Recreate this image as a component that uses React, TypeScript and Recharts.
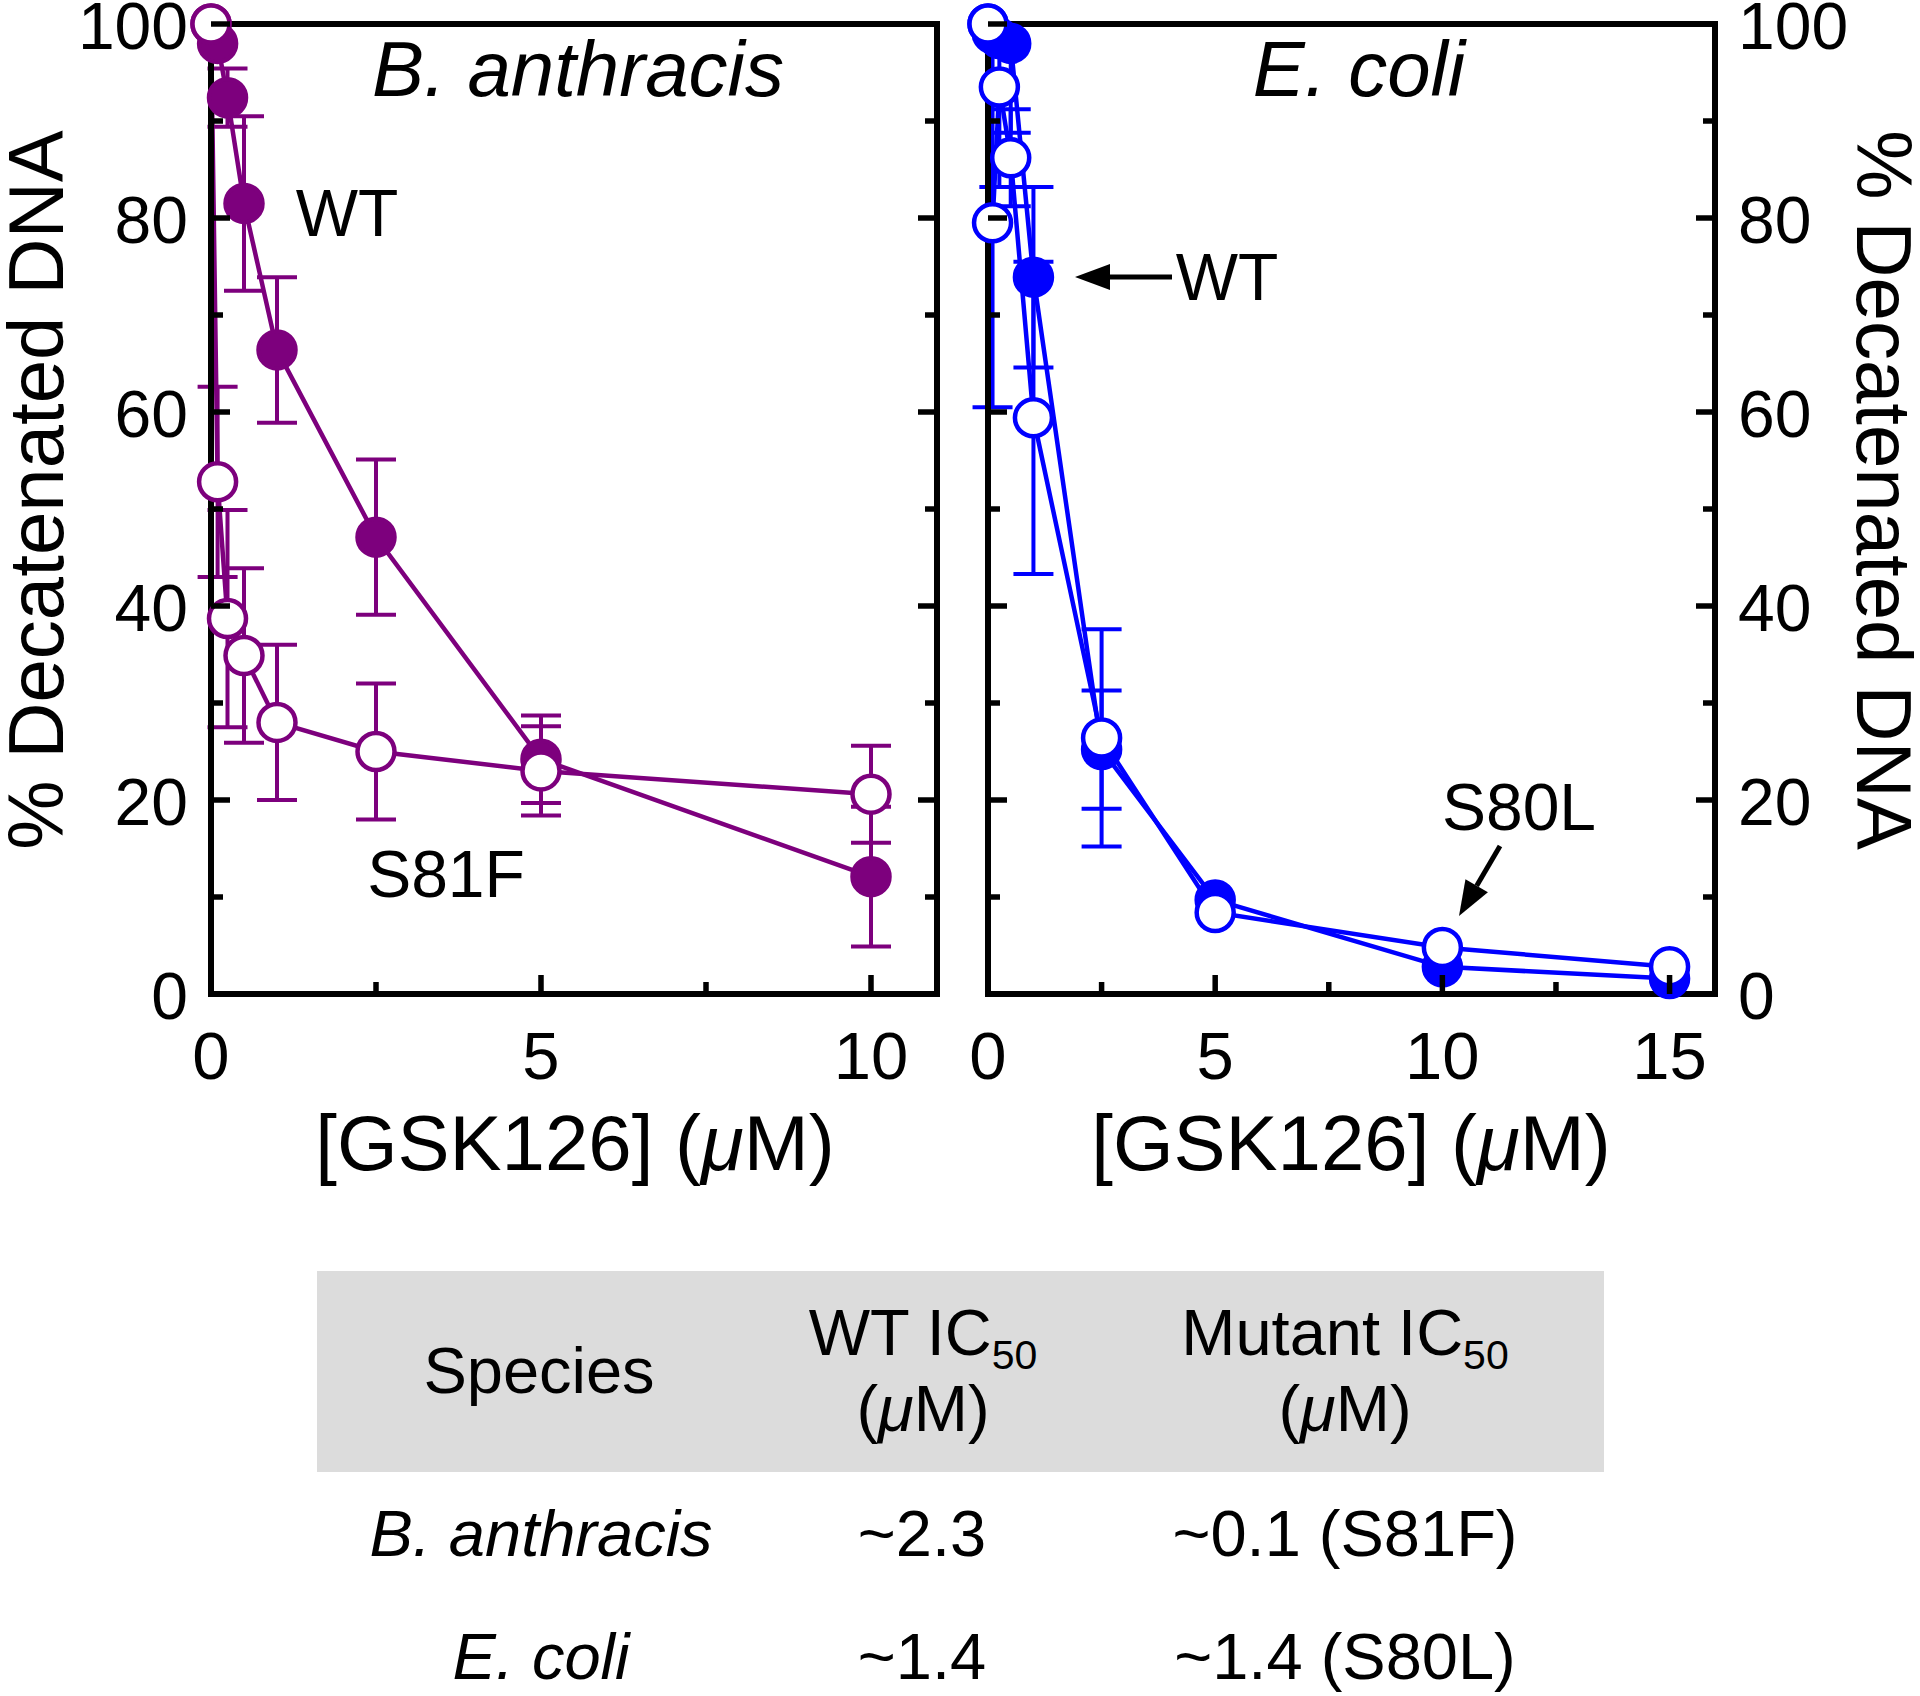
import React from "react";
import { ErrorBar, Line, LineChart, XAxis, YAxis } from "recharts";

const PURPLE = "#7d007d";
const BLUE = "#0000ff";
const FONT = "'Liberation Sans', Arial, Helvetica, sans-serif";

// B. anthracis panel: [GSK126] (uM) vs % decatenated DNA
const baConc = [0, 0.1, 0.25, 0.5, 1, 2.5, 5, 10];
const baWT = [100, 98, 92.4, 81.5, 66.4, 47.1, 24.2, 12.1];
const baWTErr = [0, 0, 3, 9, 7.5, 8, 4.5, 7.2];
const baS81F = [100, 52.8, 38.7, 34.9, 28.0, 25.0, 23.0, 20.6];
const baS81FErr = [0, 9.8, 11.2, 9, 8, 7, 4.6, 5];

// E. coli panel
const ecConc = [0, 0.1, 0.25, 0.5, 1, 2.5, 5, 10, 15];
const ecWT = [100, 99, 98.5, 98, 73.9, 25.2, 9.7, 2.8, 1.6];
const ecWTErr = [0, 0, 0, 9.2, 9.3, 6.1, 0, 0, 0];
const ecS80L = [100, 79.5, 93.5, 86.2, 59.4, 26.4, 8.4, 4.8, 2.8];
const ecS80LErr = [0, 19, 10.3, 5, 16.1, 11.2, 0, 0, 0];

// axes
const yTicks = [0, 10, 20, 30, 40, 50, 60, 70, 80, 90, 100];
const yMajor = [0, 20, 40, 60, 80, 100];
const baXTicks = [0, 2.5, 5, 7.5, 10];
const ecXTicks = [0, 2.5, 5, 7.5, 10, 12.5, 15];
const xMajor = [0, 5, 10, 15];

// IC50 table
const tableSpecies = ["B. anthracis", "E. coli"];
const tableWT = ["~2.3", "~1.4"];
const tableMutant = ["~0.1 (S81F)", "~1.4 (S80L)"];

// upper error is cut at the 100% frame
function toRows(xs: number[], ys: number[], errs: number[]) {
  return xs.map((x, i) => ({
    x,
    y: ys[i],
    err: errs[i] > 0 ? [errs[i], Math.min(errs[i], 100 - ys[i])] : undefined,
  }));
}

const baWTRows = toRows(baConc, baWT, baWTErr);
const baS81FRows = toRows(baConc, baS81F, baS81FErr);
const ecWTRows = toRows(ecConc, ecWT, ecWTErr);
const ecS80LRows = toRows(ecConc, ecS80L, ecS80LErr);

const axisLine = { stroke: "#000", strokeWidth: 6, strokeLinecap: "square" as const };

function AxisTick(props: any) {
  const { x, y, payload, side, showLabel, majors } = props;
  const v = payload.value;
  const major = majors.includes(v);
  const len = major ? 19 : 12;
  const label = showLabel && major ? String(v) : null;
  if (side === "bottom") {
    return (
      <g>
        {v !== 0 && <line x1={x} x2={x} y1={y} y2={y - len} stroke="#000" strokeWidth={5.5} />}
        {label && (
          <text x={x} y={y + 85} textAnchor="middle" fontSize={67} fontFamily={FONT} fill="#000">
            {label}
          </text>
        )}
      </g>
    );
  }
  const dir = side === "left" ? 1 : -1;
  return (
    <g>
      <line x1={x} x2={x + dir * len} y1={y} y2={y} stroke="#000" strokeWidth={5.5} />
      {label && (
        <text
          x={x - dir * 23}
          y={y + 2}
          dy="0.355em"
          textAnchor={side === "left" ? "end" : "start"}
          fontSize={66}
          fontFamily={FONT}
          fill="#000"
        >
          {label}
        </text>
      )}
    </g>
  );
}

function makeDot(color: string, filled: boolean) {
  return (p: any) => (
    <circle
      key={`dot-${p.index}`}
      cx={p.cx}
      cy={p.cy}
      r={18.5}
      fill={filled ? color : "#fff"}
      stroke={color}
      strokeWidth={4.5}
    />
  );
}

function Panel({
  xMax,
  xTicks,
  wtRows,
  mutRows,
  color,
  labelSide,
  leftWidth,
  rightWidth,
}: {
  xMax: number;
  xTicks: number[];
  wtRows: any[];
  mutRows: any[];
  color: string;
  labelSide: "left" | "right";
  leftWidth: number;
  rightWidth: number;
}) {
  return (
    <LineChart width={960} height={1200} margin={{ top: 22, right: 0, bottom: 26, left: 0 }}>
      <XAxis
        xAxisId="b"
        type="number"
        dataKey="x"
        domain={[0, xMax]}
        ticks={xTicks}
        interval={0}
        height={180}
        tickSize={0}
        tickMargin={0}
        tickLine={false}
        axisLine={axisLine}
        tick={<AxisTick side="bottom" showLabel majors={xMajor} />}
      />
      <XAxis
        xAxisId="t"
        orientation="top"
        type="number"
        dataKey="x"
        domain={[0, xMax]}
        height={2}
        tick={false}
        tickLine={false}
        axisLine={axisLine}
      />
      <YAxis
        yAxisId="l"
        type="number"
        domain={[0, 100]}
        ticks={yTicks}
        interval={0}
        width={leftWidth}
        tickSize={0}
        tickMargin={0}
        tickLine={false}
        axisLine={axisLine}
        tick={<AxisTick side="left" showLabel={labelSide === "left"} majors={yMajor} />}
      />
      <YAxis
        yAxisId="r"
        orientation="right"
        type="number"
        domain={[0, 100]}
        ticks={yTicks}
        interval={0}
        width={rightWidth}
        tickSize={0}
        tickMargin={0}
        tickLine={false}
        axisLine={axisLine}
        tick={<AxisTick side="right" showLabel={labelSide === "right"} majors={yMajor} />}
      />
      {/* invisible copy so the frame axes (top / right) get a domain */}
      <Line
        xAxisId="t"
        yAxisId="r"
        data={wtRows}
        dataKey="y"
        stroke="none"
        dot={false}
        activeDot={false}
        legendType="none"
        isAnimationActive={false}
      />
      <Line
        xAxisId="b"
        yAxisId="l"
        data={wtRows}
        dataKey="y"
        type="linear"
        stroke={color}
        strokeWidth={4.5}
        dot={makeDot(color, true)}
        activeDot={false}
        isAnimationActive={false}
      >
        <ErrorBar dataKey="err" direction="y" width={20} stroke={color} strokeWidth={4} />
      </Line>
      <Line
        xAxisId="b"
        yAxisId="l"
        data={mutRows}
        dataKey="y"
        type="linear"
        stroke={color}
        strokeWidth={4.5}
        dot={makeDot(color, false)}
        activeDot={false}
        isAnimationActive={false}
      >
        <ErrorBar dataKey="err" direction="y" width={20} stroke={color} strokeWidth={4} />
      </Line>
    </LineChart>
  );
}

function arrowHead(x1: number, y1: number, x2: number, y2: number, len: number, half: number) {
  const d = Math.hypot(x2 - x1, y2 - y1);
  const ux = (x2 - x1) / d;
  const uy = (y2 - y1) / d;
  const bx = x2 - ux * len;
  const by = y2 - uy * len;
  return {
    base: [bx, by],
    points: `${x2},${y2} ${bx - uy * half},${by + ux * half} ${bx + uy * half},${by - ux * half}`,
  };
}

function Arrow({ x1, y1, x2, y2 }: { x1: number; y1: number; x2: number; y2: number }) {
  const h = arrowHead(x1, y1, x2, y2, 35, 13);
  return (
    <g>
      <line x1={x1} y1={y1} x2={h.base[0]} y2={h.base[1]} stroke="#000" strokeWidth={5} />
      <polygon points={h.points} fill="#000" />
    </g>
  );
}

function UnitLabel({ x, y, size }: { x: number; y: number; size: number }) {
  return (
    <text x={x} y={y} textAnchor="middle" fontSize={size} fontFamily={FONT} fill="#000">
      (<tspan fontStyle="italic">μ</tspan>M)
    </text>
  );
}

export default function App() {
  const txt = { fontFamily: FONT, fill: "#000" };
  return (
    <div style={{ position: "absolute", left: 0, top: 0, width: 1920, height: 1696, background: "#fff" }}>
      <div style={{ position: "absolute", left: 0, top: 0 }}>
        <Panel
          xMax={11}
          xTicks={baXTicks}
          wtRows={baWTRows}
          mutRows={baS81FRows}
          color={PURPLE}
          labelSide="left"
          leftWidth={211}
          rightWidth={23}
        />
      </div>
      <div style={{ position: "absolute", left: 960, top: 0 }}>
        <Panel
          xMax={16}
          xTicks={ecXTicks}
          wtRows={ecWTRows}
          mutRows={ecS80LRows}
          color={BLUE}
          labelSide="right"
          leftWidth={28}
          rightWidth={205}
        />
      </div>
      <svg
        width={1920}
        height={1696}
        style={{ position: "absolute", left: 0, top: 0, pointerEvents: "none" }}
      >
        {/* axis titles */}
        <text {...txt} fontSize={78} textAnchor="middle" dy="0.35em" transform="translate(36 490) rotate(-90)">
          % Decatenated DNA
        </text>
        <text {...txt} fontSize={78} textAnchor="middle" dy="0.35em" transform="translate(1884 490) rotate(90)">
          % Decatenated DNA
        </text>
        <text {...txt} x={575} y={1170} fontSize={78} textAnchor="middle">
          [GSK126] (<tspan fontStyle="italic">μ</tspan>M)
        </text>
        <text {...txt} x={1351} y={1170} fontSize={78} textAnchor="middle">
          [GSK126] (<tspan fontStyle="italic">μ</tspan>M)
        </text>

        {/* panel titles and annotations */}
        <text {...txt} x={578} y={96} fontSize={78} fontStyle="italic" textAnchor="middle">
          B. anthracis
        </text>
        <text {...txt} x={1359} y={96} fontSize={78} fontStyle="italic" textAnchor="middle">
          E. coli
        </text>
        <text {...txt} x={347} y={236} fontSize={66} textAnchor="middle">
          WT
        </text>
        <text {...txt} x={446} y={897} fontSize={66} textAnchor="middle">
          S81F
        </text>
        <text {...txt} x={1227} y={300} fontSize={66} textAnchor="middle">
          WT
        </text>
        <Arrow x1={1172} y1={277} x2={1075} y2={277} />
        <text {...txt} x={1519} y={830} fontSize={66} textAnchor="middle">
          S80L
        </text>
        <Arrow x1={1500} y1={846} x2={1459} y2={916} />

        {/* IC50 table */}
        <rect x={317} y={1271} width={1287} height={201} fill="#dcdcdc" />
        <text {...txt} x={539} y={1393} fontSize={65} textAnchor="middle">
          Species
        </text>
        <text {...txt} x={923} y={1355} fontSize={65} textAnchor="middle">
          WT IC<tspan fontSize={41} dy={14}>50</tspan>
        </text>
        <UnitLabel x={923} y={1431} size={65} />
        <text {...txt} x={1345} y={1355} fontSize={65} textAnchor="middle">
          Mutant IC<tspan fontSize={41} dy={14}>50</tspan>
        </text>
        <UnitLabel x={1345} y={1431} size={65} />
        {tableSpecies.map((s, i) => (
          <g key={s}>
            <text {...txt} x={541} y={1556 + i * 123} fontSize={65} fontStyle="italic" textAnchor="middle">
              {s}
            </text>
            <text {...txt} x={922} y={1556 + i * 123} fontSize={65} textAnchor="middle">
              {tableWT[i]}
            </text>
            <text {...txt} x={1345} y={1556 + i * 123} fontSize={65} textAnchor="middle">
              {tableMutant[i]}
            </text>
          </g>
        ))}
      </svg>
    </div>
  );
}
